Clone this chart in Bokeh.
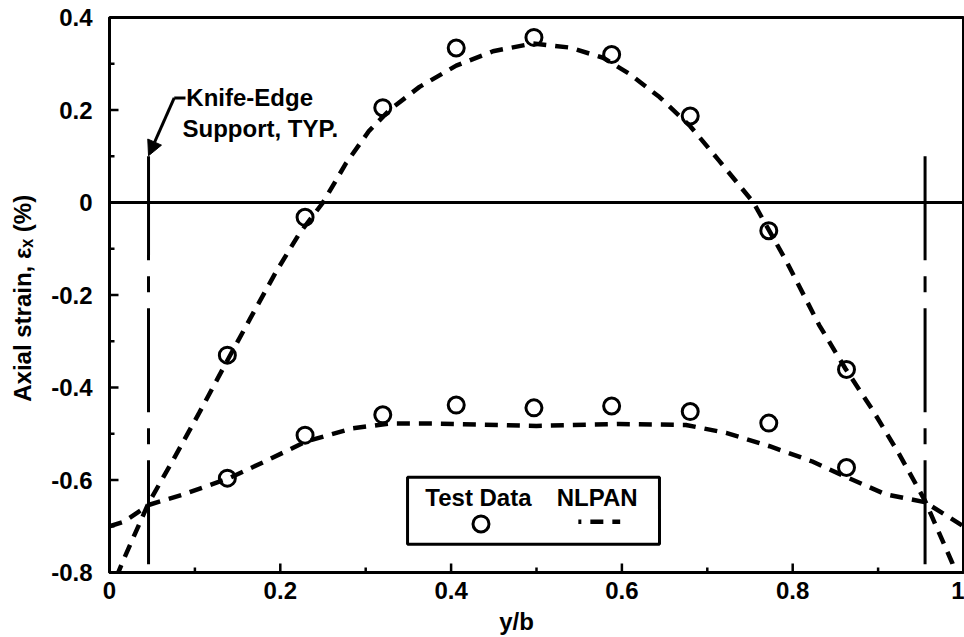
import math
from bokeh.plotting import figure
from bokeh.models import FixedTicker, Span, Arrow, NormalHead, BoxAnnotation, Range1d
from bokeh.embed import file_html
from bokeh.resources import INLINE
from bokeh.core.properties import value

# ---- data ----
test_yb = [0.138, 0.229, 0.32, 0.406, 0.497, 0.588, 0.68, 0.772, 0.863]
test_upper = [-0.330, -0.032, 0.205, 0.334, 0.357, 0.320, 0.187, -0.061, -0.361]
test_lower = [-0.596, -0.503, -0.459, -0.438, -0.444, -0.440, -0.452, -0.477, -0.573]

nl_upper_x = [0.008, 0.017, 0.0457, 0.075, 0.105, 0.137, 0.165, 0.195, 0.222, 0.25,
              0.277, 0.304, 0.328, 0.363, 0.406, 0.449, 0.496, 0.539, 0.578, 0.609,
              0.644, 0.68, 0.714, 0.754, 0.792, 0.831, 0.862, 0.894, 0.925, 0.955,
              0.987, 0.995]
nl_upper_y = [-0.81, -0.77, -0.650, -0.555, -0.455, -0.345, -0.25, -0.15, -0.068, 0.0,
              0.085, 0.155, 0.20, 0.25, 0.296, 0.327, 0.344, 0.335, 0.313, 0.278,
              0.228, 0.165, 0.09, 0.0, -0.125, -0.265, -0.36, -0.45, -0.545, -0.645,
              -0.78, -0.83]

nl_lower_x = [0.0, 0.017, 0.0457, 0.085, 0.14, 0.183, 0.23, 0.285, 0.328, 0.378,
              0.457, 0.5, 0.597, 0.675, 0.722, 0.773, 0.823, 0.862, 0.909, 0.955, 1.0]
nl_lower_y = [-0.70, -0.69, -0.654, -0.632, -0.596, -0.559, -0.517, -0.488, -0.478, -0.478,
              -0.481, -0.483, -0.479, -0.481, -0.498, -0.527, -0.56, -0.593, -0.631, -0.648, -0.70]

support_x = [0.0457, 0.955]
support_top = 0.1
support_bottom = -0.8

x_ticks = [0, 0.2, 0.4, 0.6, 0.8, 1]
x_tick_labels = ["0", "0.2", "0.4", "0.6", "0.8", "1"]
x_minor = [0.1, 0.3, 0.5, 0.7, 0.9]
y_ticks = [-0.8, -0.6, -0.4, -0.2, 0, 0.2, 0.4]
y_tick_labels = ["-0.8", "-0.6", "-0.4", "-0.2", "0", "0.2", "0.4"]
y_minor = [-0.7, -0.5, -0.3, -0.1, 0.1, 0.3]

X_MIN, X_MAX = 0, 1
Y_MIN, Y_MAX = -0.8, 0.4

FONT = "Liberation Sans"
FS = "24px"

p = figure(width=964, height=637, x_range=Range1d(X_MIN, X_MAX), y_range=Range1d(Y_MIN, Y_MAX),
           output_backend="svg", toolbar_location=None,
           min_border_left=109, min_border_right=1, min_border_top=17, min_border_bottom=65)
p.xgrid.visible = False
p.ygrid.visible = False
p.outline_line_color = "black"
p.outline_line_width = 3
p.outline_line_alpha = 1.0
p.background_fill_color = "white"
p.border_fill_color = "white"

for ax in (p.xaxis[0], p.yaxis[0]):
    ax.axis_line_width = 3
    ax.major_tick_in = 0
    ax.major_tick_out = 0
    ax.minor_tick_in = 0
    ax.minor_tick_out = 0
    ax.major_label_text_font = FONT
    ax.major_label_text_font_style = "bold"
    ax.major_label_text_font_size = FS
    ax.major_label_text_color = "black"
    ax.axis_label_text_font = FONT
    ax.axis_label_text_font_style = "bold"
    ax.axis_label_text_font_size = FS
    ax.axis_label_text_color = "black"

p.xaxis.ticker = FixedTicker(ticks=x_ticks, minor_ticks=x_minor)
p.yaxis.ticker = FixedTicker(ticks=y_ticks, minor_ticks=y_minor)
p.xaxis.major_label_overrides = dict(zip(x_ticks, x_tick_labels))
p.yaxis.major_label_overrides = dict(zip(y_ticks, y_tick_labels))
p.xaxis.major_label_standoff = 9
p.yaxis.major_label_standoff = 17
p.yaxis.axis_label = "Axial strain,  \u03b5\u2093 (%)"
p.yaxis.axis_label_standoff = 12
p.xaxis.axis_label = "y/b" + "\u00a0" * 6
p.xaxis.axis_label_standoff = 6

# inward ticks
p.ray(x=x_ticks, y=[Y_MIN] * len(x_ticks), length=9, length_units="screen",
      angle=math.pi / 2, line_color="black", line_width=2.5)
p.ray(x=x_minor, y=[Y_MIN] * len(x_minor), length=5, length_units="screen",
      angle=math.pi / 2, line_color="black", line_width=2.5)
p.ray(x=[X_MIN] * len(y_ticks), y=y_ticks, length=9, length_units="screen",
      angle=0, line_color="black", line_width=2.5)
p.ray(x=[X_MIN] * len(y_minor), y=y_minor, length=5, length_units="screen",
      angle=0, line_color="black", line_width=2.5)

# zero line
p.add_layout(Span(location=0, dimension="width", line_color="black", line_width=3))

# knife-edge supports
p.segment(x0=support_x, y0=[support_top] * 2, x1=support_x, y1=[support_bottom] * 2,
          line_color="black", line_width=3, line_dash="104 16 16 16")

# NLPAN curves
p.line(nl_upper_x, nl_upper_y, line_color="black", line_width=4.5, line_dash="13 9")
p.line(nl_lower_x, nl_lower_y, line_color="black", line_width=4.5, line_dash="13 9")

# test data
p.scatter(test_yb, test_upper, marker="circle", size=16, fill_color=None,
          line_color="black", line_width=3)
p.scatter(test_yb, test_lower, marker="circle", size=16, fill_color=None,
          line_color="black", line_width=3)

# annotation
p.segment(x0=[0.0758], y0=[0.226], x1=[0.089], y1=[0.226], line_color="black", line_width=3)
p.add_layout(Arrow(end=NormalHead(size=15, fill_color="black", line_color="black"),
                   x_start=0.0758, y_start=0.226, x_end=0.0457, y_end=0.101,
                   line_color="black", line_width=3))
p.text(x=[0.090, 0.0855], y=[0.227, 0.16], text=["Knife-Edge", "Support, TYP."],
       text_font=value(FONT), text_font_style="bold", text_font_size=FS, text_align="left",
       text_baseline="middle", text_color="black")

# legend
p.add_layout(BoxAnnotation(left=0.349, right=0.644, top=-0.594, bottom=-0.739,
                           fill_color="white", fill_alpha=1.0, line_color="black",
                           line_width=3, line_alpha=1.0, level="underlay"))
p.text(x=[0.432, 0.571], y=[-0.637, -0.637], text=["Test Data", "NLPAN"],
       text_font=value(FONT), text_font_style="bold", text_font_size=FS,
       text_align="center", text_baseline="middle", text_color="black")
p.scatter([0.435], [-0.695], marker="circle", size=16, fill_color=None,
          line_color="black", line_width=3)
p.line([0.549, 0.598], [-0.69, -0.69], line_color="black", line_width=4.5,
       line_dash="13 9", line_dash_offset=10)

open("out.html", "w").write(file_html(p, INLINE))
